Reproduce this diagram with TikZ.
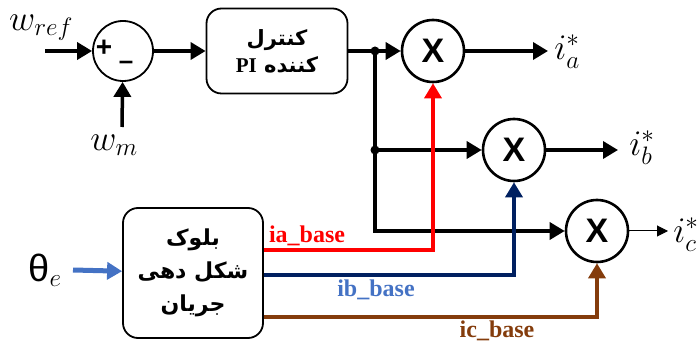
\documentclass[tikz,border=0pt]{standalone}
\usepackage{fix-cm}
\usepackage{fontspec}
\setmainfont{Liberation Serif}
\newfontfamily\farsi[Script=Arabic]{DejaVu Sans}
\newfontfamily\sansx{Liberation Sans}
\TeXXeTstate=1
\usepackage{xcolor}
\usepackage{tikz}
\usetikzlibrary{arrows.meta}

\definecolor{navy}{HTML}{002060}
\definecolor{lblue}{HTML}{4472C4}
\definecolor{brownc}{HTML}{843C0C}

\begin{document}
\begin{tikzpicture}[x=1pt, y=-1pt,
	mult/.style={draw, circle, line width=2.6pt, minimum size=62pt, inner sep=0pt, font=\sansx\bfseries\fontsize{34}{34}\selectfont},
	sumc/.style={draw, circle, line width=1.8pt, minimum size=60pt, inner sep=0pt},
	blk/.style={draw, rounded corners=15pt, line width=1.8pt, align=center, inner sep=0pt},
	sig/.style={line width=3.5pt, -{Triangle[length=15pt,width=17pt]}},
	lbl/.style={inner sep=0pt, font=\fontsize{36}{36}\selectfont},
	base/.style={inner sep=0pt, font=\bfseries\fontsize{24}{24}\selectfont}]
	\useasboundingbox (0,0) rectangle (698,344);

	%Blokkene
	\node[sumc] (sum) at (123,51) {};
	\node[inner sep=0pt, font=\sansx\bfseries\fontsize{28}{28}\selectfont] (plus) at (104,48) {+};
	\node[inner sep=0pt, font=\sansx\bfseries\fontsize{26}{26}\selectfont] (minus) at (126,65) {–};
	\node[blk, minimum width=141pt, minimum height=85pt, font=\farsi\bfseries\fontsize{21}{27}\selectfont] (pi) at (277,51)
		{\beginR کنترل\endR\\ \beginR کننده \beginL{\rmfamily PI}\endL\endR};
	\node[blk, minimum width=140pt, minimum height=130pt, font=\farsi\bfseries\fontsize{22}{33}\selectfont] (shaper) at (193,273)
		{\beginR بلوک\endR\\ \beginR شکل دهی\endR\\ \beginR جریان\endR};
	\node[mult] (ma) at (433,51) {X};
	\node[mult] (mb) at (514,150) {X};
	\node[mult] (mc) at (597,231) {X};

	%Tekstene
	\node[lbl] (wref) at (41,28) {$w_{ref}$};
	\node[lbl] (wm) at (114,145) {$w_m$};
	\node[lbl] (theta) at (45,270) {{\sansx\fontsize{38}{38}\selectfont θ}$_e$};
	\node[lbl] (ia) at (567,52) {$i_a^*$};
	\node[lbl] (ib) at (642,148) {$i_b^*$};
	\node[lbl] (ic) at (686,235) {$i_c^*$};
	\node[base, red] (labela) at (307,236) {ia\_base};
	\node[base, lblue] (labelb) at (376,290) {ib\_base};
	\node[base, brownc] (labelc) at (497,331) {ic\_base};

	%Punktene
	\coordinate (wrefin) at (45,51);
	\coordinate (wmin) at (122,127);
	\coordinate (thetain) at (73,270);
	\coordinate (j1) at (375,51);
	\coordinate (j2) at (375,150);
	\coordinate (j3) at (375,231);
	\coordinate (oa) at (548,51);
	\coordinate (ob) at (618,150);
	\coordinate (oc) at (668,231);
	\fill (j1) circle (4.5pt);
	\fill (j2) circle (4.5pt);

	%Kantene
	\draw[sig] (wrefin) -- (sum);
	\draw[sig] (wmin) -- (sum);
	\draw[sig] (sum) -- (pi);
	\draw[sig] (pi) -- (ma);
	\draw[sig] (j2) -- (mb);
	\draw[sig] (j1) -- (j3) -- (mc);
	\draw[sig] (ma) -- (oa);
	\draw[sig] (mb) -- (ob);
	\draw[line width=1pt, -{Triangle[length=11pt,width=11pt]}] (mc) -- (oc);
	\draw[sig, lblue, line width=5pt] (thetain) -- (shaper);
	\draw[sig, red] ([yshift=23pt]shaper.east) -| (ma);
	\draw[sig, navy] ([yshift=-2pt]shaper.east) -| (mb);
	\draw[sig, brownc] ([yshift=-44pt]shaper.east) -| (mc);
\end{tikzpicture}
\end{document}
